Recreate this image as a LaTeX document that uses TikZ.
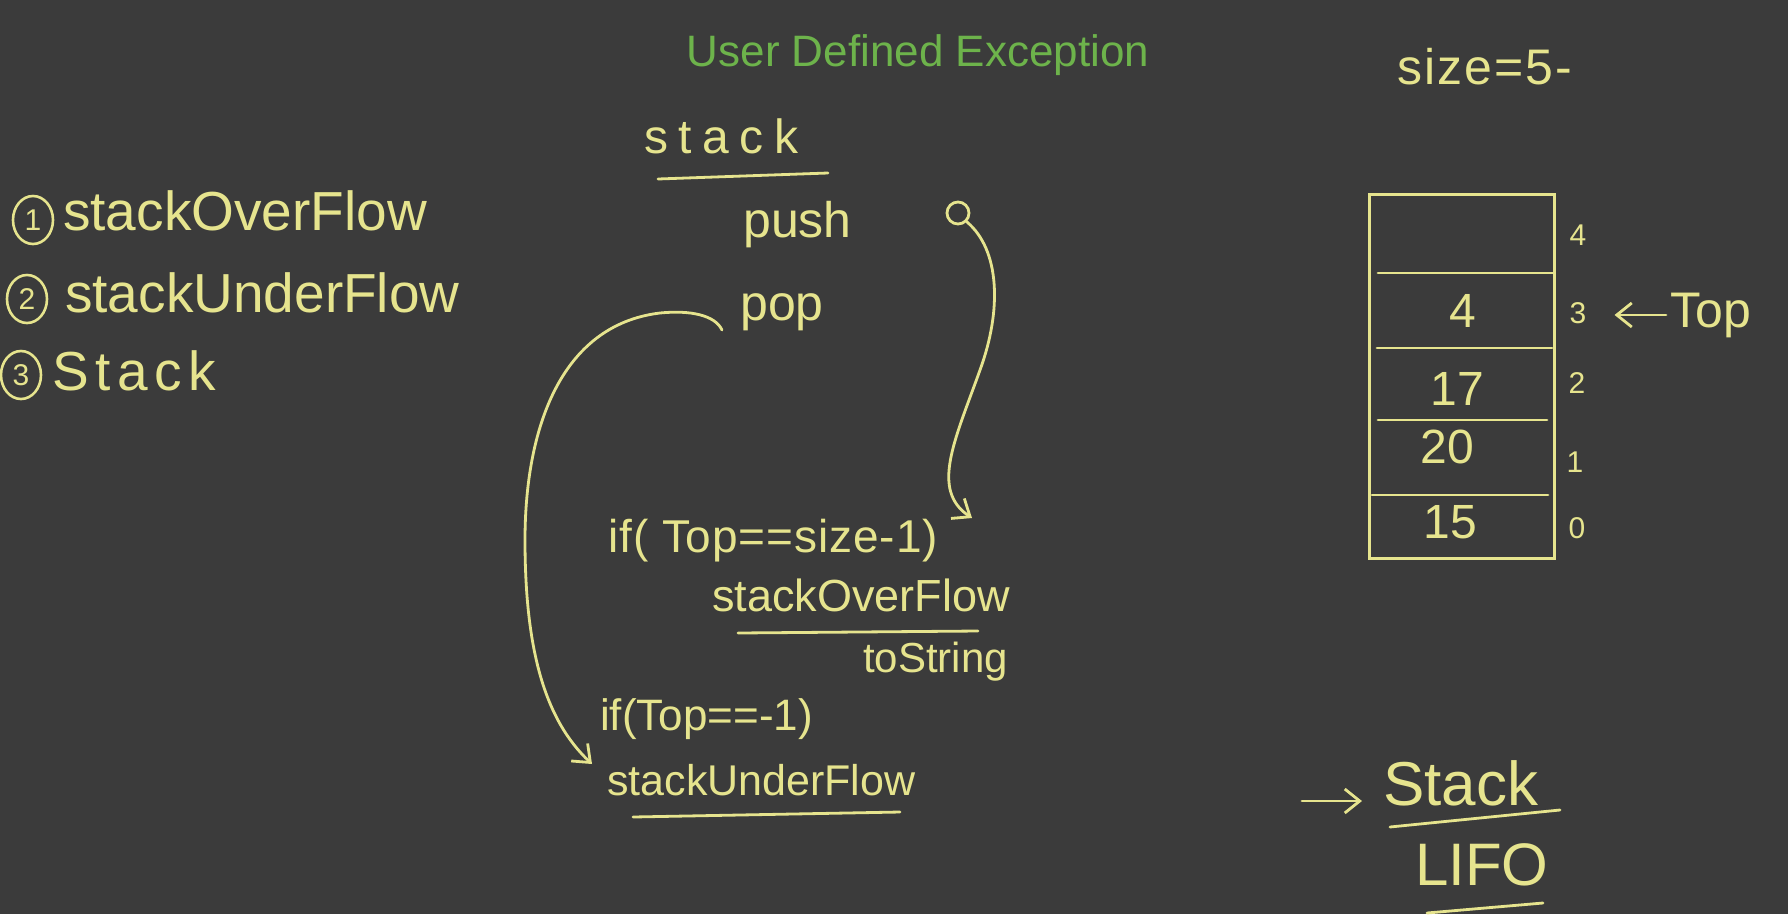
\documentclass[tikz,border=0pt]{standalone}
\usepackage{fontspec}
\setmainfont{Liberation Sans}
\usepackage{xcolor}
\usetikzlibrary{arrows.meta,positioning,shapes.geometric}
\definecolor{board}{HTML}{3B3B3B}
\definecolor{chalk}{HTML}{E6E48E}
\definecolor{heading}{HTML}{6DB34B}
\newcommand{\fsz}[1]{\fontsize{#1}{#1}\selectfont}
\newcommand{\spaced}[1]{\addfontfeatures{LetterSpace=#1}}

\begin{document}
\begin{tikzpicture}[x=1pt,y=-1pt,
  chalk line/.style={draw=chalk,line width=2.8pt,line cap=round},
  hand/.style={text=chalk,inner sep=0pt,anchor=base west},
  numring/.style={draw=chalk,line width=2.6pt,ellipse,minimum width=40pt,minimum height=48pt,inner sep=0pt,text=chalk,font=\fsz{30}},
  cellval/.style={text=chalk,inner sep=0pt,anchor=base,font=\fsz{48}},
  idx/.style={text=chalk,inner sep=0pt,anchor=base,font=\fsz{30}},
  tipped/.style={chalk line,-{Straight Barb[length=15pt,width=24pt,line width=2.8pt]}}]
  \fill[board] (0,0) rectangle (1788,914);
  \useasboundingbox (0,0) rectangle (1788,914);

  \node[text=heading,inner sep=0pt,anchor=base,font=\fsz{44}] (title) at (918,66) {User Defined Exception};

  % list of exceptions
  \node[numring] (n1) at (33,220) {1};
  \node[numring] (n2) at (27,299) {2};
  \node[numring] (n3) at (21,375) {3};
  \node[hand,font=\fsz{55}] (over) at (63,230) {stackOverFlow};
  \node[hand,font=\fsz{55}] (under) at (65,312) {stackUnderFlow};
  \node[hand,font=\fsz{55}\spaced{12}] (stk) at (52,390) {Stack};

  % stack class
  \node[hand,font=\fsz{48}\spaced{22}] (stackhd) at (644,153) {stack};
  \draw[chalk line] (658,179) -- (828,173);
  \node[hand,font=\fsz{50}] (push) at (743,237) {push};
  \node[hand,font=\fsz{50}] (pop) at (740,320) {pop};
  \node[hand,font=\fsz{46}\spaced{2}] (ifover) at (608,552) {if( Top==size-1)};
  \node[hand,font=\fsz{45}] (throwover) at (712,611) {stackOverFlow};
  \draw[chalk line] (738,633) -- (978,631);
  \node[hand,font=\fsz{42}] (tostr) at (863,672) {toString};
  \node[hand,font=\fsz{44}] (ifunder) at (600,730) {if(Top==-1)};
  \node[hand,font=\fsz{43}] (throwunder) at (607,795) {stackUnderFlow};
  \draw[chalk line] (633,817) -- (900,812);

  \coordinate (qmark) at (958,213);
  \coordinate (pushend) at (972,518);
  \draw[chalk line] (qmark) circle (11);
  \draw[tipped] ([shift={(9,9)}]qmark) .. controls (1000,250) and (1002,310) .. (980,370)
    .. controls (955,440) and (930,490) .. (pushend);
  \coordinate (popend) at (592,764);
  \draw[tipped] ([shift={(-18,10)}]pop.base west) .. controls (715,315) and (690,310) .. (660,313)
    .. controls (560,325) and (525,430) .. (525,540)
    .. controls (525,650) and (545,720) .. (popend);

  % array picture
  \node[hand,font=\fsz{50}\spaced{4}] (size) at (1397,84) {size=5-};
  \node[draw=chalk,line width=2.8pt,minimum width=185pt,minimum height=364pt,inner sep=0pt,anchor=north west] (stackbox) at (1368,193) {};
  \foreach \y/\a/\b in {273/1378/1553,348/1377/1552,420/1378/1547,495/1372/1548}
    \draw[chalk line] (\a,\y) -- (\b,\y);
  \node[cellval] (c3) at (1463,327) {4};
  \node[cellval] (c2) at (1457,405) {17};
  \node[cellval] (c1) at (1447,463) {20};
  \node[cellval] (c0) at (1450,538) {15};
  \node[idx] (i4) at (1578,245) {4};
  \node[idx] (i3) at (1578,323) {3};
  \node[idx] (i2) at (1577,393) {2};
  \node[idx] (i1) at (1575,472) {1};
  \node[idx] (i0) at (1577,538) {0};
  \node[hand,font=\fsz{50}] (toplbl) at (1670,327) {Top};
  \draw[tipped,shorten <=4pt,shorten >=28pt] (toplbl.west) -- (i3.east |- toplbl.west);

  % stack is LIFO
  \coordinate (arrowtail) at (1302,801);
  \node[hand,font=\fsz{62}] (stackfoot) at (1383,805) {Stack};
  \draw[tipped,shorten >=21pt] (arrowtail) -- ([yshift=4pt]stackfoot.base west);
  \draw[chalk line] (1390,827) -- (1560,810);
  \node[hand,font=\fsz{60}] (lifo) at (1415,885) {LIFO};
  \draw[chalk line] (1427,913) -- (1543,903);
\end{tikzpicture}
\end{document}
